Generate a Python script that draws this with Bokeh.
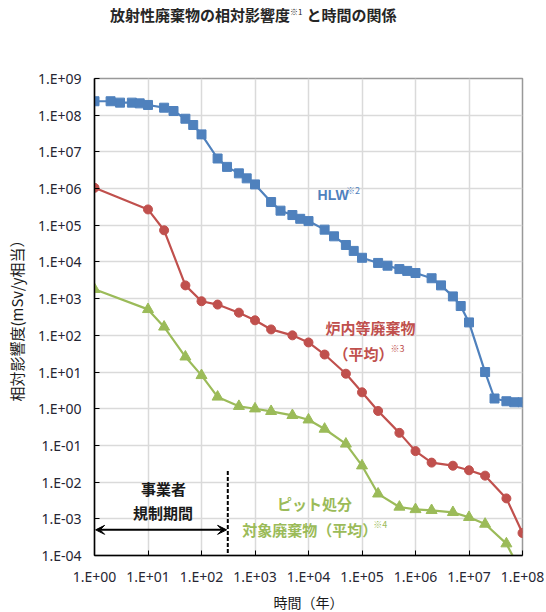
from bokeh.plotting import figure
from bokeh.models import FixedTicker, Label, Arrow, VeeHead, Div
from bokeh.layouts import column
from bokeh.embed import file_html
from bokeh.resources import INLINE

# ---------------- data ----------------
hlw_years = [1, 2, 3, 5, 7, 10, 20, 30, 50, 70, 100, 200, 300, 500, 700,
             1e3, 2e3, 3e3, 5e3, 7e3, 1e4, 2e4, 3e4, 5e4, 7e4, 1e5, 2e5, 3e5,
             5e5, 7e5, 1e6, 2e6, 3e6, 5e6, 7e6, 1e7, 2e7, 3e7, 5e7, 7e7, 1e8]
hlw_values = [2.4e8, 2.4e8, 2.2e8, 2.2e8, 2.1e8, 1.9e8, 1.6e8, 1.3e8, 8.0e7, 5.4e7,
              3.0e7, 6.6e6, 3.9e6, 2.6e6, 1.9e6, 1.3e6, 4.3e5, 2.5e5, 1.9e5, 1.5e5,
              1.3e5, 7.6e4, 5.0e4, 2.9e4, 2.0e4, 1.3e4, 9.4e3, 7.9e3, 6.4e3, 5.7e3,
              5.0e3, 3.6e3, 2.3e3, 1.15e3, 630, 225, 10, 1.9, 1.6, 1.5, 1.5]

reactor_years = [1, 10, 20, 50, 100, 200, 500, 1e3, 2e3, 5e3, 1e4, 2e4, 5e4, 1e5,
                 2e5, 5e5, 1e6, 2e6, 5e6, 1e7, 2e7, 5e7, 1e8]
reactor_values = [1.05e6, 2.7e5, 7.3e4, 2.3e3, 850, 690, 415, 257, 145, 100, 64, 30,
                  9, 2.8, 0.87, 0.22, 0.07, 0.034, 0.028, 0.021, 0.015, 0.0036, 4.1e-4]

pit_years = [1, 10, 20, 50, 100, 200, 500, 1e3, 2e3, 5e3, 1e4, 2e4, 5e4, 1e5,
             2e5, 5e5, 1e6, 2e6, 5e6, 1e7, 2e7, 5e7, 1e8]
pit_values = [1.8e3, 510, 170, 26, 8.1, 2.1, 1.17, 1.0, 0.85, 0.66, 0.5, 0.28, 0.11,
              0.028, 0.0048, 0.0021, 0.0018, 0.0017, 0.0015, 0.0011, 7.2e-4, 2.1e-4, 3e-5]

x_tick_values = [10.0 ** e for e in range(0, 9)]
x_tick_labels = ["1.E+00", "1.E+01", "1.E+02", "1.E+03", "1.E+04",
                 "1.E+05", "1.E+06", "1.E+07", "1.E+08"]
y_tick_values = [10.0 ** e for e in range(-4, 10)]
y_tick_labels = ["1.E-04", "1.E-03", "1.E-02", "1.E-01", "1.E+00", "1.E+01", "1.E+02",
                 "1.E+03", "1.E+04", "1.E+05", "1.E+06", "1.E+07", "1.E+08", "1.E+09"]

period_start = 1
period_end = 310          # end of operator regulation period (years)
period_arrow_level = 5e-4
period_line_top = 0.02

BLUE = "#4F81BD"
RED = "#C0504D"
GREEN = "#9BBB59"
CJK = "Noto Sans CJK JP"

TITLE_H = 30

title_div = Div(
    text='放射性廃棄物の相対影響度<sup style="font-size:8px;font-weight:normal;">※1</sup>'
         '<span style="margin-left:4px;">と時間の関係</span>',
    width=544, height=TITLE_H, margin=(0, 0, 0, 0),
    styles={"font-family": CJK, "font-size": "15px", "font-weight": "bold",
            "color": "#262626", "padding-left": "110px", "line-height": "24px",
            "white-space": "nowrap"})

p = figure(x_axis_type="log", y_axis_type="log",
           x_range=(1, 1e8), y_range=(1e-4, 1e9),
           frame_width=428, frame_height=477,
           min_border_left=94, min_border_right=22,
           min_border_top=78 - TITLE_H, min_border_bottom=55,
           output_backend="svg", toolbar_location=None)

p.background_fill_color = "white"
p.border_fill_color = "white"
p.outline_line_color = "#999999"
p.outline_line_width = 1.5

p.xaxis.ticker = FixedTicker(ticks=x_tick_values)
p.yaxis.ticker = FixedTicker(ticks=y_tick_values)
p.xaxis.major_label_overrides = dict(zip(x_tick_values, x_tick_labels))
p.yaxis.major_label_overrides = dict(zip(y_tick_values, y_tick_labels))

for ax in (p.xaxis[0], p.yaxis[0]):
    ax.axis_line_color = "black"
    ax.axis_line_width = 1.5
    ax.major_tick_line_color = "black"
    ax.major_tick_in = 5
    ax.major_tick_out = 0
    ax.minor_tick_line_color = None
    ax.major_label_text_font = "Noto Sans"
    ax.major_label_text_font_size = "14px"
    ax.major_label_text_color = "#262633"
    ax.axis_label_text_font = CJK
    ax.axis_label_text_font_style = "normal"
    ax.axis_label_text_color = "#1a1a1a"

p.yaxis.major_label_standoff = 13
p.xaxis.major_label_standoff = 11
p.yaxis.axis_label = "相対影響度(mSv/y相当）"
p.yaxis.axis_label_text_font_size = "15px"
p.yaxis.axis_label_standoff = 8
p.xaxis.axis_label = "時間（年）"
p.xaxis.axis_label_text_font_size = "14px"
p.xaxis.axis_label_standoff = 3

p.grid.grid_line_color = "#DADADA"
p.grid.grid_line_width = 1.5

# ---------------- series ----------------
p.line(hlw_years, hlw_values, line_color=BLUE, line_width=2.2)
p.scatter(hlw_years, hlw_values, marker="square", size=9, fill_color=BLUE, line_color=BLUE)

p.line(reactor_years, reactor_values, line_color=RED, line_width=2.2)
p.scatter(reactor_years, reactor_values, marker="circle", size=9, fill_color=RED, line_color=RED)

p.line(pit_years, pit_values, line_color=GREEN, line_width=2.2)
p.scatter(pit_years, pit_values, marker="triangle", size=11, fill_color=GREEN, line_color=GREEN)

# ---------------- regulation period ----------------
p.segment(x0=[period_end], y0=[period_line_top], x1=[period_end], y1=[1e-4],
          line_color="black", line_width=2, line_dash="4 2")
p.add_layout(Arrow(start=VeeHead(size=9, fill_color="black", line_color="black"),
                   end=VeeHead(size=9, fill_color="black", line_color="black"),
                   x_start=period_start * 1.05, y_start=period_arrow_level,
                   x_end=period_end * 0.95, y_end=period_arrow_level,
                   line_color="black", line_width=2))


def lab(x, y, text, color, size="15px", align="left", font=CJK, style="bold"):
    p.add_layout(Label(x=x, y=y, text=text, text_color=color, text_font=font,
                       text_font_size=size, text_align=align, text_baseline="middle",
                       text_font_style=style))


# series annotations
lab(1.48e4, 6.6e5, "HLW", BLUE, "14px", font="Liberation Sans")
lab(5.0e4, 10 ** 5.95, "※2", BLUE, "9px", style="normal")

lab(10 ** 5.16, 160, "炉内等廃棄物", RED, "15px", align="center")
lab(2.94e4, 33, "（平均）", RED, "15px")
lab(3.4e5, 44, "※3", RED, "9px", style="normal")

lab(1.3e4, 2.54e-3, "ピット処分", GREEN, "15px", align="center")
lab(575, 5.1e-4, "対象廃棄物（平均）", GREEN, "15px")
lab(1.63e5, 7e-4, "※4", GREEN, "9px", style="normal")

lab(19.5, 6.9e-3, "事業者", "#1a1a1a", "15px", align="center")
lab(19.0, 1.44e-3, "規制期間", "#1a1a1a", "15px", align="center")

layout = column(title_div, p, spacing=0)
open("out.html", "w").write(file_html(layout, INLINE))
